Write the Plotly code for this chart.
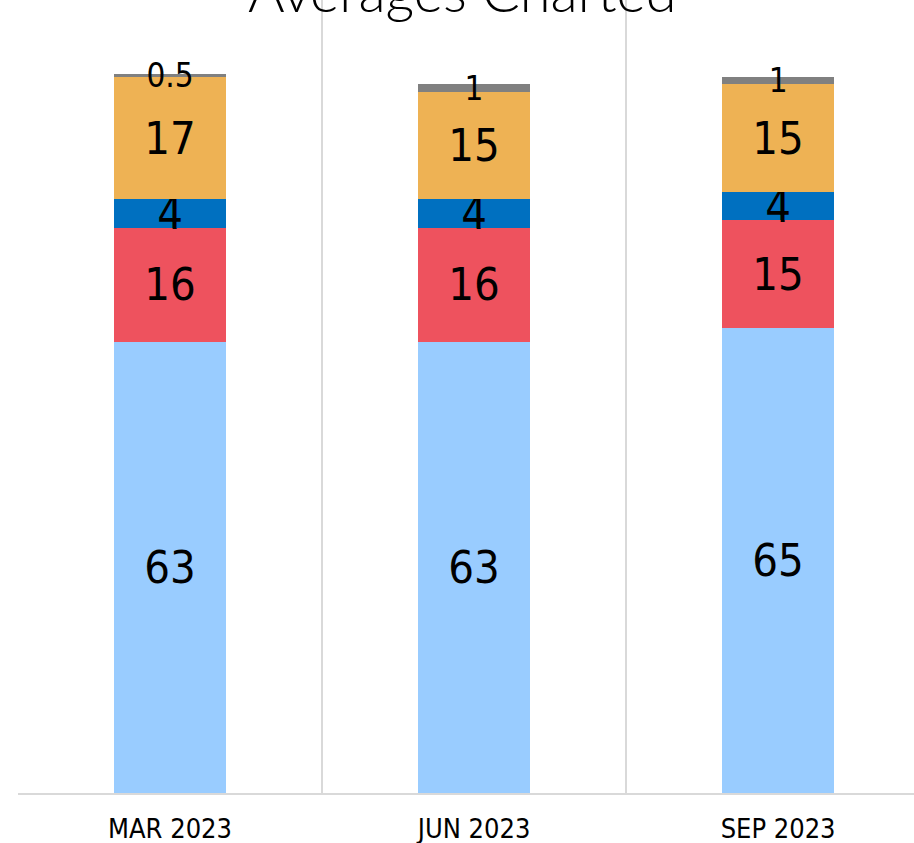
import plotly.graph_objects as go

categories = ["MAR 2023", "JUN 2023", "SEP 2023"]
series_names = ["Series 1", "Series 2", "Series 3", "Series 4", "Series 5"]
series_1 = [63, 63, 65]
series_2 = [16, 16, 15]
series_3 = [4, 4, 4]
series_4 = [17, 15, 15]
series_5 = [0.5, 1, 1]
colors = ["#99CCFF", "#EE525E", "#0070C0", "#EEB254", "#808080"]
label_sizes = [45, 45, 45, 45, 33]
title_text = "Averages Charted"

LABEL_FONT = "DejaVu Sans Condensed, Roboto, sans-serif"

fig = go.Figure()
for name, vals, col, fs in zip(series_names,
                               [series_1, series_2, series_3, series_4, series_5],
                               colors, label_sizes):
    fig.add_trace(go.Bar(
        x=categories, y=vals, name=name,
        marker=dict(color=col, line=dict(width=0)),
        text=[f"{v:g}" for v in vals],
        textposition="inside",
        insidetextanchor="middle",
        constraintext="none",
        textangle=0,
        cliponaxis=False,
        textfont=dict(family=LABEL_FONT, size=fs, color="black"),
        hoverinfo="skip",
    ))

fig.update_layout(
    barmode="stack",
    bargap=0.63,
    width=914, height=843,
    margin=dict(l=18, r=0, t=0, b=50, autoexpand=False),
    paper_bgcolor="white", plot_bgcolor="white",
    showlegend=False,
    font=dict(family=LABEL_FONT, color="black"),
)
fig.add_annotation(
    text=title_text, xref="paper", yref="paper",
    x=(462 - 18) / 896, y=1 + 9.6 / 793, xanchor="center", yanchor="middle",
    showarrow=False,
    font=dict(family="Lato", size=56, color="black", weight=300),
)
fig.update_xaxes(
    type="category", range=[-0.5, 2.447], automargin=False,
    tickson="boundaries", showgrid=True, gridcolor="#D9D9D9", gridwidth=1.5,
    showline=True, linecolor="#D9D9D9", linewidth=2,
    ticks="", ticklabelstandoff=11,
    tickfont=dict(family=LABEL_FONT, size=27, color="black"),
)
fig.update_yaxes(range=[0, 110.8], showgrid=False, showticklabels=False,
                 zeroline=False, showline=False, automargin=False)

fig.write_html("out.html", config={"displayModeBar": False},
               post_script="document.body.style.margin='0';")
